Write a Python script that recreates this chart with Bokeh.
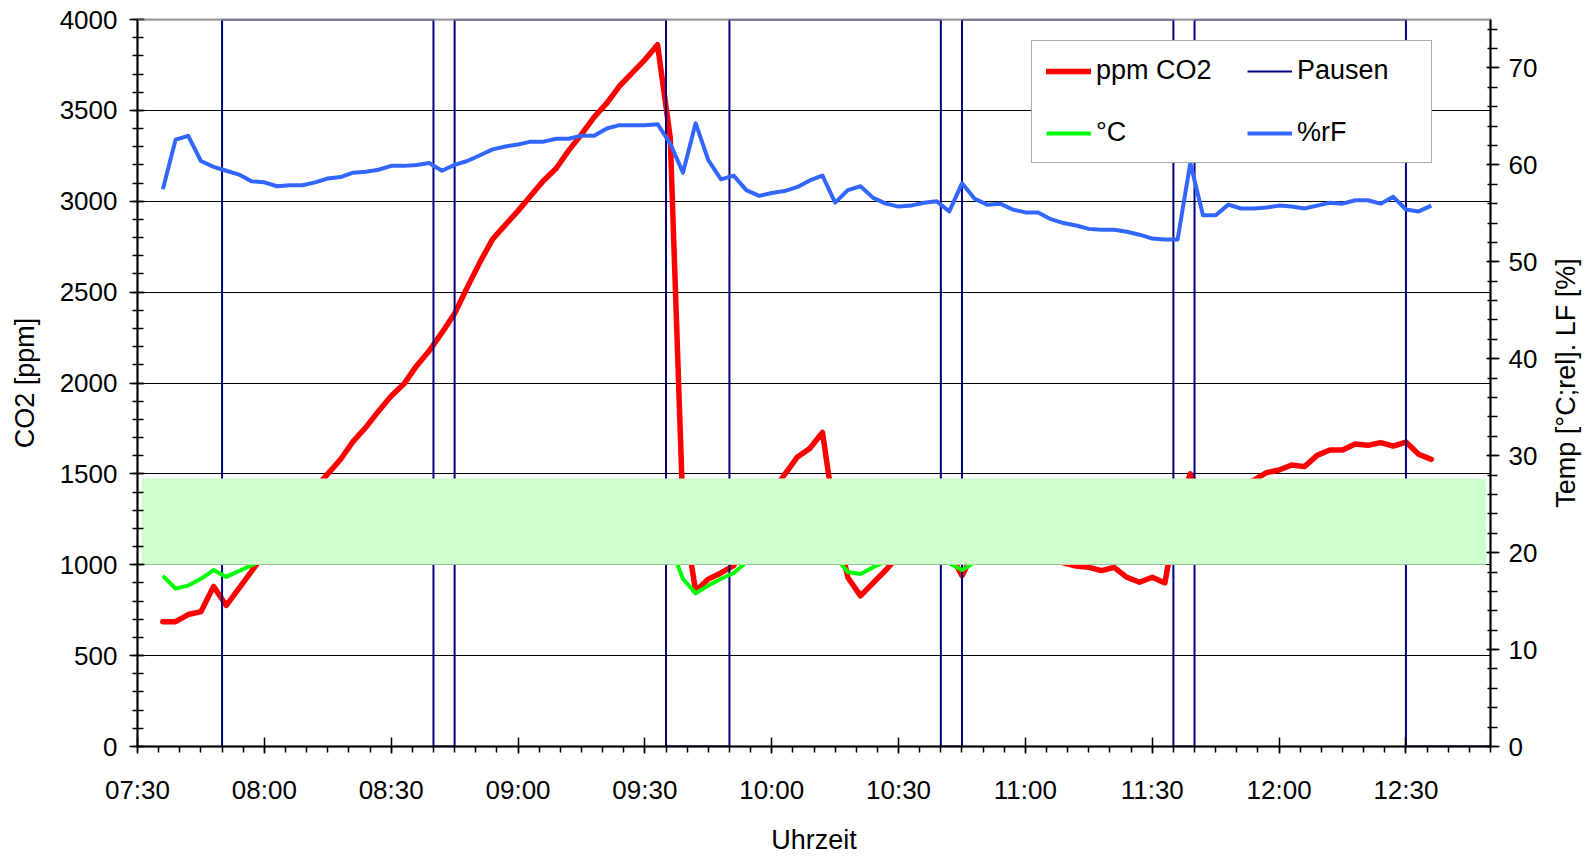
import math
from bokeh.plotting import figure
from bokeh.layouts import row
from bokeh.models import Range1d, LinearAxis, FixedTicker, Legend, LegendItem, Span
from bokeh.core.properties import value
from bokeh.embed import file_html
from bokeh.resources import INLINE

# ---------------- data ----------------
start_time = "07:36"
interval_min = 3

co2_ppm = [687, 687, 726, 742, 881, 776, 870, 965, 1060, 1150,
           1230, 1310, 1420, 1500, 1579, 1679, 1756, 1845, 1928, 1994,
           2094, 2177, 2277, 2382, 2526, 2665, 2792, 2870, 2947, 3030,
           3113, 3180, 3280, 3368, 3463, 3540, 3634, 3706, 3778, 3861,
           3350, 1300, 856, 921, 955, 995, 1120, 1280, 1390, 1495,
           1591, 1640, 1728, 1250, 930, 829, 900, 971, 1050, 1100,
           1120, 1110, 1070, 940, 1080, 1150, 1180, 1160, 1120, 1080,
           1040, 1010, 993, 986, 968, 986, 931, 904, 931, 900,
           1300, 1500, 1380, 1390, 1420, 1440, 1465, 1507, 1521, 1549,
           1540, 1602, 1631, 1631, 1664, 1657, 1672, 1653, 1675, 1608, 1580]

temp_c = [17.6, 16.3, 16.6, 17.3, 18.2, 17.5, 18.1, 18.7, 19.3, 19.6,
          19.9, 20.1, 20.4, 20.5, 20.8, 20.9, 21.1, 21.2, 21.4, 21.5,
          21.7, 21.8, 21.9, 22.1, 22.2, 22.3, 22.5, 22.6, 22.6, 22.8,
          22.9, 23.0, 23.0, 23.1, 23.2, 23.2, 23.3, 23.4, 23.3, 22.6,
          20.7, 17.3, 15.8, 16.6, 17.3, 17.9, 19.0, 19.4, 19.7, 20.0,
          20.3, 20.5, 20.6, 19.6, 18.0, 17.8, 18.5, 19.1, 19.4, 19.7,
          19.9, 20.0, 18.9, 18.2, 19.0, 19.4, 19.7, 19.9, 20.1, 20.2,
          20.3, 20.4, 20.4, 20.5, 20.6, 20.6, 20.7, 20.8, 20.8, 20.6,
          20.0, 19.8, 20.1, 20.3, 20.5, 20.6, 20.8, 20.9, 21.0, 21.1,
          21.2, 21.2, 21.3, 21.4, 21.4, 21.5, 21.5, 21.6, 21.6, 21.4, 21.3]

rel_humidity = [57.5, 62.6, 63.0, 60.4, 59.8, 59.4, 59.0, 58.3, 58.2, 57.8,
                57.9, 57.9, 58.2, 58.6, 58.75, 59.2, 59.3, 59.5, 59.9, 59.9,
                60.0, 60.2, 59.4, 60.0, 60.4, 61.0, 61.6, 61.9, 62.1, 62.4,
                62.4, 62.7, 62.7, 63.0, 63.0, 63.75, 64.1, 64.1, 64.1, 64.2,
                62.2, 59.2, 64.3, 60.5, 58.5, 58.9, 57.4, 56.8, 57.1, 57.3,
                57.7, 58.4, 58.9, 56.1, 57.4, 57.8, 56.6, 56.0, 55.7, 55.8,
                56.1, 56.25, 55.2, 58.1, 56.5, 55.9, 56.0, 55.4, 55.1, 55.1,
                54.4, 54.0, 53.75, 53.4, 53.3, 53.3, 53.1, 52.8, 52.4, 52.3,
                52.3, 60.2, 54.8, 54.8, 55.9, 55.5, 55.5, 55.6, 55.8, 55.7,
                55.5, 55.8, 56.1, 56.0, 56.35, 56.35, 56.0, 56.7, 55.4, 55.2, 55.8]

pause_times = ["07:50", "07:50", "08:40", "08:40", "08:45", "08:45",
               "09:35", "09:35", "09:50", "09:50", "10:40", "10:40",
               "10:45", "10:45", "11:35", "11:35", "11:40", "11:40",
               "12:30", "12:30", "12:50"]
pause_vals = [0, 4000, 4000, 0, 0, 4000,
              4000, 0, 0, 4000, 4000, 0,
              0, 4000, 4000, 0, 0, 4000,
              4000, 0, 0]

band_times = ["07:31", "12:49"]
band_ppm = [1000, 1475]

x_tick_labels = ["07:30", "08:00", "08:30", "09:00", "09:30", "10:00",
                 "10:30", "11:00", "11:30", "12:00", "12:30"]

right_axis_title = "Temp [°C;rel]. LF [%]"


def to_min(s):
    h, m = s.split(":")
    return int(h) * 60 + int(m)


t0 = to_min(start_time)
times = [t0 + interval_min * i for i in range(len(co2_ppm))]
pause_x = [to_min(s) for s in pause_times]
major_x = [to_min(s) for s in x_tick_labels]

FONT = "Liberation Sans"
H = 857
MAIN_W = 1545
TITLE_W = 40

p = figure(width=MAIN_W, height=H,
           x_range=Range1d(to_min("07:30"), to_min("12:50")),
           y_range=Range1d(0, 4000),
           output_backend="svg", toolbar_location=None,
           min_border_left=137, min_border_right=55,
           min_border_top=19, min_border_bottom=109)
p.extra_y_ranges = {"right": Range1d(0, 75)}
p.background_fill_color = "white"
p.border_fill_color = "white"
p.outline_line_color = "#9a9a9a"
p.outline_line_width = 2

# grid
p.xgrid.visible = False
p.ygrid.ticker = FixedTicker(ticks=list(range(500, 4000, 500)))
p.ygrid.grid_line_color = "black"
p.ygrid.grid_line_width = 1

# bottom axis
xa = p.xaxis[0]
xa.ticker = FixedTicker(ticks=major_x, minor_ticks=list(range(to_min("07:30"), to_min("12:50") + 1, 5)))
xa.major_label_overrides = {m: lab for m, lab in zip(major_x, x_tick_labels)}
xa.axis_label = "Uhrzeit"
xa.major_tick_out = 7
xa.major_tick_in = 9
xa.minor_tick_out = 6
xa.minor_tick_in = 0
xa.major_label_standoff = 21
xa.axis_label_standoff = 17

# left axis
ya = p.yaxis[0]
ya.ticker = FixedTicker(ticks=list(range(0, 4001, 500)), minor_ticks=list(range(0, 4001, 100)))
ya.axis_label = "CO2 [ppm]"
ya.major_tick_out = 8
ya.major_tick_in = 7
ya.minor_tick_out = 5
ya.minor_tick_in = 6
ya.major_label_standoff = 12
ya.axis_label_standoff = 17

# right axis
ra = LinearAxis(y_range_name="right")
ra.ticker = FixedTicker(ticks=list(range(0, 71, 10)), minor_ticks=list(range(0, 76, 2)))
ra.major_tick_out = 9
ra.major_tick_in = 4
ra.minor_tick_out = 7
ra.minor_tick_in = 3
ra.major_label_standoff = 9
p.add_layout(ra, "right")

for ax in (xa, ya, ra):
    ax.axis_line_color = "black"
    ax.axis_line_width = 2
    ax.major_tick_line_color = "black"
    ax.minor_tick_line_color = "black"
    ax.major_tick_line_width = 1.5
    ax.minor_tick_line_width = 1.5
    ax.major_label_text_font = FONT
    ax.major_label_text_font_size = "26px"
    ax.major_label_text_color = "black"
    ax.axis_label_text_font = FONT
    ax.axis_label_text_font_size = "27px"
    ax.axis_label_text_font_style = "normal"
    ax.axis_label_text_color = "black"

# series
r_co2 = p.line(times, co2_ppm, line_color="#FF0000", line_width=5.5, line_join="round", line_cap="round")
r_pause = p.line(pause_x, pause_vals, line_color="#000080", line_width=2)
r_temp = p.line(times, temp_c, line_color="#00FF00", line_width=4, line_join="round", y_range_name="right")
r_rh = p.line(times, rel_humidity, line_color="#3366FF", line_width=4, line_join="round", y_range_name="right")

# comfort band drawn over the lines
p.quad(left=[to_min(band_times[0])], right=[to_min(band_times[1])],
       bottom=[band_ppm[0]], top=[band_ppm[1]],
       fill_color="#CCFFCC", line_color=None)

# grey top frame edge over the pause line
p.add_layout(Span(location=p.y_range.end, dimension="width",
                  line_color="#9a9a9a", line_width=2))

legend = Legend(items=[LegendItem(label="ppm CO2", renderers=[r_co2]),
                       LegendItem(label="Pausen", renderers=[r_pause]),
                       LegendItem(label="°C", renderers=[r_temp]),
                       LegendItem(label="%rF", renderers=[r_rh])],
                location=(894, 583), orientation="horizontal", ncols=2,
                glyph_width=45, glyph_height=30, label_standoff=5,
                label_width=120, spacing=31, padding=14, margin=0,
                label_text_font=FONT, label_text_font_size="27px",
                label_text_color="black",
                border_line_color="#555555", border_line_width=1.5,
                background_fill_color="white", background_fill_alpha=1)
p.add_layout(legend)

# narrow strip on the right holding the right axis title, reading bottom-to-top
pt = figure(width=TITLE_W, height=H, x_range=Range1d(-1, 1), y_range=Range1d(-1, 1),
            x_axis_type=None, y_axis_type=None,
            output_backend="svg", toolbar_location=None,
            min_border_left=0, min_border_right=0,
            min_border_top=19, min_border_bottom=109)
pt.outline_line_color = None
pt.background_fill_color = "white"
pt.border_fill_color = "white"
pt.grid.visible = False
pt.text(x=[0], y=[0], text=[right_axis_title], angle=math.pi / 2,
        text_align="center", text_baseline="middle",
        text_font=value(FONT), text_font_size="27px", text_color="black")

layout = row(p, pt, spacing=0)
open("out.html", "w").write(file_html(layout, INLINE))
